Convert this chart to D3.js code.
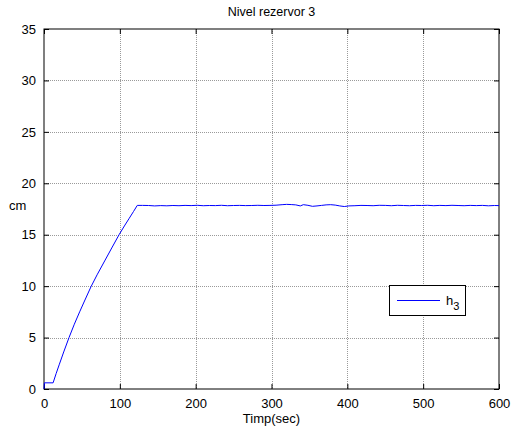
<!DOCTYPE html>
<html>
<head>
<meta charset="utf-8">
<script src="https://cdn.jsdelivr.net/npm/d3@7"></script>
<style>
  body { margin: 0; background: #fff; }
  text { font-family: "Liberation Sans", Arial, sans-serif; fill: #000; }
</style>
</head>
<body>
<div id="chart"></div>
<script>
// time (s) and level h3 (cm)
const timeVals = [0, 0.5, 12, 16, 20, 26, 33, 40, 47, 54, 62, 70, 80, 90, 99, 106, 112, 118, 123,
  130, 138, 146, 154, 162, 170, 178, 186, 194, 202, 210, 218, 226, 234, 242, 250,
  258, 266, 274, 282, 290, 298, 306, 314, 320, 326, 332, 338, 342, 348, 354, 360,
  366, 372, 378, 384, 390, 396, 402, 410, 418, 426, 434, 442, 450, 458, 466, 474,
  482, 490, 498, 506, 514, 522, 530, 538, 546, 554, 562, 570, 578, 586, 594, 600];
const h3Vals = [0, 0.6, 0.6, 1.5, 2.35, 3.6, 5.0, 6.3, 7.5, 8.65, 9.95, 11.1, 12.45, 13.8, 15.0, 15.85, 16.55, 17.25, 17.85,
  17.85, 17.84, 17.80, 17.83, 17.81, 17.84, 17.82, 17.85, 17.83, 17.86, 17.82, 17.84, 17.83, 17.86, 17.82, 17.84,
  17.85, 17.83, 17.84, 17.86, 17.84, 17.85, 17.87, 17.92, 17.95, 17.93, 17.90, 17.80, 17.92, 17.86, 17.76, 17.80,
  17.85, 17.90, 17.92, 17.88, 17.80, 17.74, 17.80, 17.82, 17.85, 17.84, 17.82, 17.86, 17.85, 17.82, 17.86, 17.84,
  17.82, 17.85, 17.84, 17.86, 17.82, 17.85, 17.83, 17.86, 17.84, 17.82, 17.85, 17.83, 17.85, 17.81, 17.84, 17.83];
const xTicks = [0, 100, 200, 300, 400, 500, 600];
const yTicks = [0, 5, 10, 15, 20, 25, 30, 35];

const width = 512, height = 430;
const margin = { top: 29, right: 13, bottom: 41, left: 44 };

const svg = d3.select("#chart").append("svg")
  .attr("width", width)
  .attr("height", height);

const x = d3.scaleLinear().domain([0, 600]).range([margin.left, width - margin.right]);
const y = d3.scaleLinear().domain([0, 35]).range([height - margin.bottom, margin.top]);

const x0 = x(0), x1 = x(600), y0 = y(0), y1 = y(35);

// grid
const grid = svg.append("g")
  .attr("stroke", "#9a9a9a")
  .attr("stroke-width", 1)
  .attr("stroke-dasharray", "1,1");
grid.selectAll(".gx")
  .data(xTicks.slice(1, -1))
  .join("line")
  .attr("x1", d => Math.round(x(d)) + 0.5).attr("x2", d => Math.round(x(d)) + 0.5)
  .attr("y1", y1).attr("y2", y0);
grid.selectAll(".gy")
  .data(yTicks.slice(1, -1))
  .join("line")
  .attr("y1", d => Math.round(y(d)) + 0.5).attr("y2", d => Math.round(y(d)) + 0.5)
  .attr("x1", x0).attr("x2", x1);

// axes with inward ticks
svg.append("g")
  .attr("transform", `translate(0,${y0})`)
  .call(d3.axisBottom(x).tickValues(xTicks).tickSizeInner(-5).tickSizeOuter(0).tickPadding(10))
  .call(g => g.select(".domain").remove())
  .call(g => g.selectAll("text").style("font-size", "13px"));
svg.append("g")
  .attr("transform", `translate(0,${y1})`)
  .call(d3.axisTop(x).tickValues(xTicks).tickSizeInner(-5).tickSizeOuter(0).tickFormat(""))
  .call(g => g.select(".domain").remove());
svg.append("g")
  .attr("transform", `translate(${x0},0)`)
  .call(d3.axisLeft(y).tickValues(yTicks).tickSizeInner(-5).tickSizeOuter(0).tickPadding(8))
  .call(g => g.select(".domain").remove())
  .call(g => g.selectAll("text").style("font-size", "13px"));
svg.append("g")
  .attr("transform", `translate(${x1},0)`)
  .call(d3.axisRight(y).tickValues(yTicks).tickSizeInner(-5).tickSizeOuter(0).tickFormat(""))
  .call(g => g.select(".domain").remove());

svg.append("rect")
  .attr("x", x0).attr("y", y1)
  .attr("width", x1 - x0).attr("height", y0 - y1)
  .attr("fill", "none")
  .attr("stroke", "#000")
  .attr("stroke-width", 1);

// data line
const pts = timeVals.map((t, i) => [t, h3Vals[i]]);
svg.append("path")
  .datum(pts)
  .attr("fill", "none")
  .attr("stroke", "#0000ff")
  .attr("stroke-width", 1)
  .attr("d", d3.line().x(d => x(d[0])).y(d => y(d[1])));

// title and labels
svg.append("text")
  .attr("x", (x0 + x1) / 2).attr("y", 16)
  .attr("text-anchor", "middle")
  .style("font-size", "12.5px")
  .text("Nivel rezervor 3");
svg.append("text")
  .attr("x", (x0 + x1) / 2).attr("y", 423)
  .attr("text-anchor", "middle")
  .style("font-size", "13px")
  .text("Timp(sec)");
svg.append("text")
  .attr("x", 9).attr("y", 210)
  .style("font-size", "13px")
  .text("cm");

// legend
const lg = svg.append("g");
lg.append("rect")
  .attr("x", 389.5).attr("y", 285.5)
  .attr("width", 76).attr("height", 30)
  .attr("fill", "#fff")
  .attr("stroke", "#000");
lg.append("line")
  .attr("x1", 397).attr("x2", 440)
  .attr("y1", 300.5).attr("y2", 300.5)
  .attr("stroke", "#0000ff");
const lt = lg.append("text")
  .attr("x", 446).attr("y", 305)
  .style("font-size", "13px");
lt.append("tspan").text("h");
lt.append("tspan").attr("dy", 5).style("font-size", "11px").text("3");
</script>
</body>
</html>
